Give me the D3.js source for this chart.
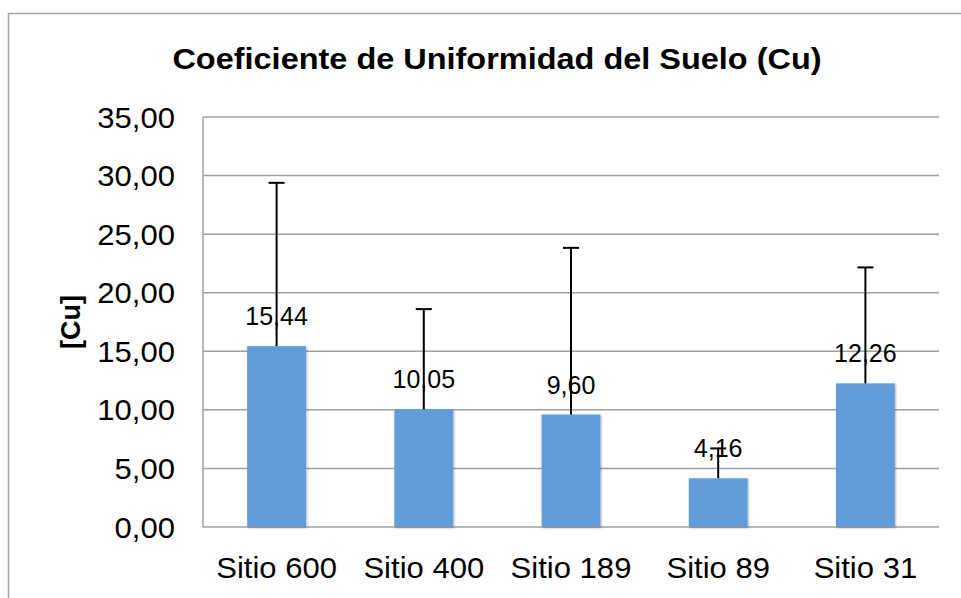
<!DOCTYPE html>
<html>
<head>
<meta charset="utf-8">
<script src="https://cdn.jsdelivr.net/npm/d3@7"></script>
<style>
  body { margin: 0; background: #fff; }
  svg { display: block; font-family: "Liberation Sans", Arial, sans-serif; }
</style>
</head>
<body>
<svg></svg>
<script>
let width = 961, height = 598;
let sites = ["Sitio 600", "Sitio 400", "Sitio 189", "Sitio 89", "Sitio 31"];
let cu = [15.44, 10.05, 9.60, 4.16, 12.26];
let errPlus = [13.94, 8.55, 14.23, 2.55, 9.90];
let yTicks = [0, 5, 10, 15, 20, 25, 30, 35];

let margin = {left: 203, right: 22, top: 117, bottom: 71};
let fmt = d => d3.format(".2f")(d).replace(".", ",");

let svg = d3.select("svg")
  .attr("width", width)
  .attr("height", height);

// outer chart border
svg.append("rect")
  .attr("x", 8.5).attr("y", 13.5)
  .attr("width", width).attr("height", height)
  .style("fill", "none")
  .style("stroke", "#a6a6a6")
  .style("stroke-width", 1.5);

let x = d3.scaleBand()
  .domain(sites)
  .range([margin.left, width - margin.right])
  .paddingInner(0.6)
  .paddingOuter(0.3);

let y = d3.scaleLinear()
  .domain([0, 35])
  .range([height - margin.bottom, margin.top]);

// gridlines
svg.append("g")
  .selectAll("line")
  .data(yTicks)
  .enter().append("line")
    .attr("x1", margin.left)
    .attr("x2", width - margin.right)
    .attr("y1", d => y(d))
    .attr("y2", d => y(d))
    .style("stroke", "#a0a0a0")
    .style("stroke-width", 1.5);

// left axis line
svg.append("line")
  .attr("x1", margin.left).attr("x2", margin.left)
  .attr("y1", y(35)).attr("y2", y(0))
  .style("stroke", "#a0a0a0")
  .style("stroke-width", 1.5);

// y tick labels
svg.append("g")
  .selectAll("text")
  .data(yTicks)
  .enter().append("text")
    .attr("transform", d => "translate(175," + y(d) + ") scale(1.035,1)")
    .attr("dy", "0.35em")
    .style("text-anchor", "end")
    .style("font-size", "30px")
    .style("fill", "#000")
    .text(fmt);

// shadow for bars
let defs = svg.append("defs");
let f = defs.append("filter").attr("id", "shadow")
  .attr("x", "-20%").attr("y", "-20%").attr("width", "140%").attr("height", "140%");
f.append("feDropShadow")
  .attr("dx", 1).attr("dy", 1).attr("stdDeviation", 1.2)
  .attr("flood-color", "#000").attr("flood-opacity", 0.3);

// bars
svg.append("g")
  .selectAll("rect")
  .data(sites)
  .enter().append("rect")
    .attr("x", d => x(d))
    .attr("y", (d, i) => y(cu[i]))
    .attr("width", x.bandwidth())
    .attr("height", (d, i) => y(0) - y(cu[i]))
    .style("fill", "#629ddb")
    .attr("filter", "url(#shadow)");

// data labels
svg.append("g")
  .selectAll("text")
  .data(sites)
  .enter().append("text")
    .attr("x", d => x(d) + x.bandwidth() / 2)
    .attr("y", (d, i) => y(cu[i]) - 21)
    .style("text-anchor", "middle")
    .style("font-size", "25px")
    .style("fill", "#000")
    .text((d, i) => fmt(cu[i]));

// error bars (plus only)
let err = svg.append("g")
  .selectAll("g")
  .data(sites)
  .enter().append("g");

err.append("line")
  .attr("x1", d => x(d) + x.bandwidth() / 2)
  .attr("x2", d => x(d) + x.bandwidth() / 2)
  .attr("y1", (d, i) => y(cu[i]))
  .attr("y2", (d, i) => y(cu[i] + errPlus[i]))
  .style("stroke", "#000")
  .style("stroke-width", 2);

err.append("line")
  .attr("x1", d => x(d) + x.bandwidth() / 2 - 8)
  .attr("x2", d => x(d) + x.bandwidth() / 2 + 8)
  .attr("y1", (d, i) => y(cu[i] + errPlus[i]))
  .attr("y2", (d, i) => y(cu[i] + errPlus[i]))
  .style("stroke", "#000")
  .style("stroke-width", 2);

// category labels
svg.append("g")
  .selectAll("text")
  .data(sites)
  .enter().append("text")
    .attr("transform", d => "translate(" + (x(d) + x.bandwidth() / 2) + ",578) scale(1.035,1)")
    .style("text-anchor", "middle")
    .style("font-size", "30px")
    .style("fill", "#000")
    .text(d => d);

// title
svg.append("text")
  .attr("transform", "translate(497,69) scale(1.12,1)")
  .style("text-anchor", "middle")
  .style("font-size", "29px")
  .style("font-weight", "bold")
  .text("Coeficiente de Uniformidad del Suelo (Cu)");

// y axis title
svg.append("text")
  .attr("transform", "translate(80," + y(17.5) + ") rotate(-90)")
  .style("text-anchor", "middle")
  .style("font-size", "27px")
  .style("font-weight", "bold")
  .text("[Cu]");
</script>
</body>
</html>
